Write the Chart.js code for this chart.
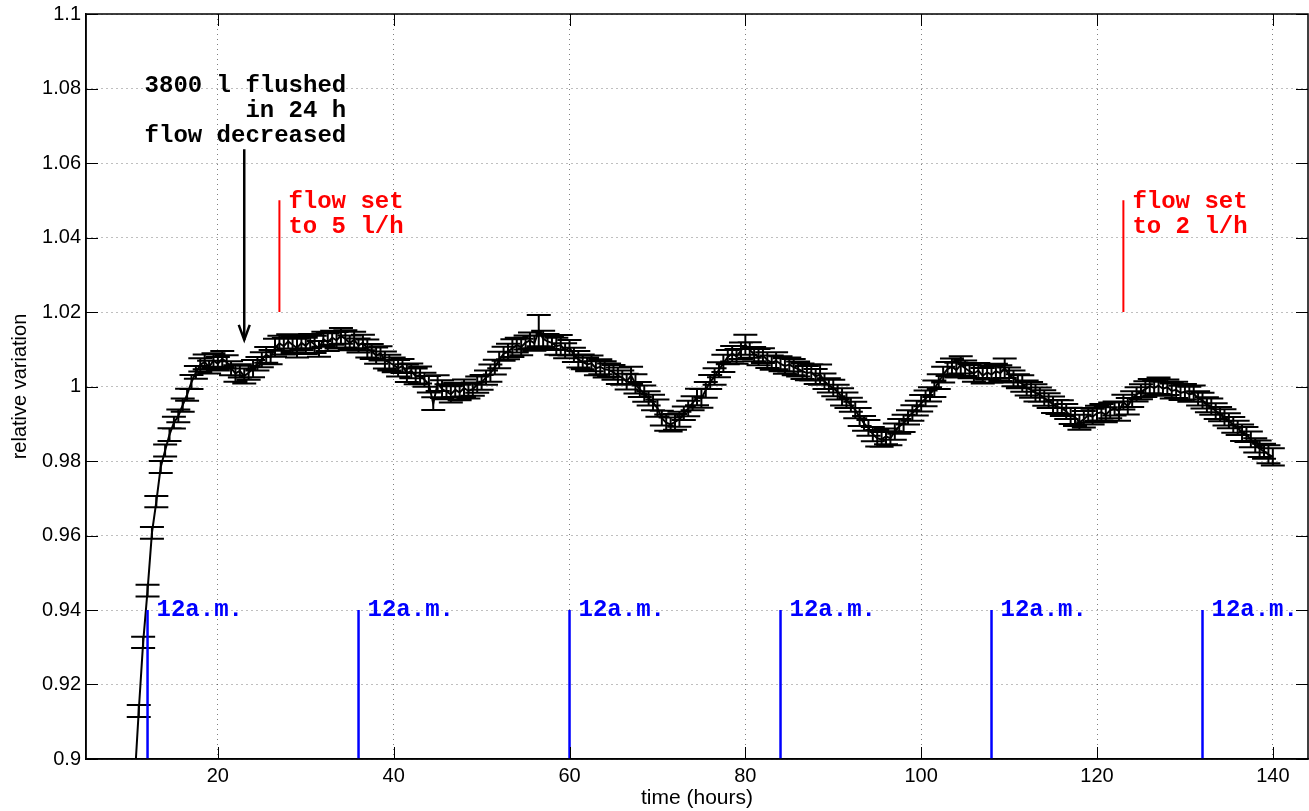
<!DOCTYPE html>
<html>
<head>
<meta charset="utf-8">
<title>relative variation vs time</title>
<script src="https://cdn.jsdelivr.net/npm/chart.js@4.4.1/dist/chart.umd.min.js"></script>
<style>
  html, body { margin: 0; padding: 0; background: #ffffff; }
  canvas { display: block; }
</style>
</head>
<body>
<canvas id="chart" width="1309" height="811"></canvas>
<script>
// Measurement times (hours), one reading every half hour
const hours = [
  10.5, 11, 11.5, 12, 12.5, 13, 13.5, 14, 14.5, 15,
  15.5, 16, 16.5, 17, 17.5, 18, 18.5, 19, 19.5, 20,
  20.5, 21, 21.5, 22, 22.5, 23, 23.5, 24, 24.5, 25,
  25.5, 26, 26.5, 27, 27.5, 28, 28.5, 29, 29.5, 30,
  30.5, 31, 31.5, 32, 32.5, 33, 33.5, 34, 34.5, 35,
  35.5, 36, 36.5, 37, 37.5, 38, 38.5, 39, 39.5, 40,
  40.5, 41, 41.5, 42, 42.5, 43, 43.5, 44, 44.5, 45,
  45.5, 46, 46.5, 47, 47.5, 48, 48.5, 49, 49.5, 50,
  50.5, 51, 51.5, 52, 52.5, 53, 53.5, 54, 54.5, 55,
  55.5, 56, 56.5, 57, 57.5, 58, 58.5, 59, 59.5, 60,
  60.5, 61, 61.5, 62, 62.5, 63, 63.5, 64, 64.5, 65,
  65.5, 66, 66.5, 67, 67.5, 68, 68.5, 69, 69.5, 70,
  70.5, 71, 71.5, 72, 72.5, 73, 73.5, 74, 74.5, 75,
  75.5, 76, 76.5, 77, 77.5, 78, 78.5, 79, 79.5, 80,
  80.5, 81, 81.5, 82, 82.5, 83, 83.5, 84, 84.5, 85,
  85.5, 86, 86.5, 87, 87.5, 88, 88.5, 89, 89.5, 90,
  90.5, 91, 91.5, 92, 92.5, 93, 93.5, 94, 94.5, 95,
  95.5, 96, 96.5, 97, 97.5, 98, 98.5, 99, 99.5, 100,
  100.5, 101, 101.5, 102, 102.5, 103, 103.5, 104, 104.5, 105,
  105.5, 106, 106.5, 107, 107.5, 108, 108.5, 109, 109.5, 110,
  110.5, 111, 111.5, 112, 112.5, 113, 113.5, 114, 114.5, 115,
  115.5, 116, 116.5, 117, 117.5, 118, 118.5, 119, 119.5, 120,
  120.5, 121, 121.5, 122, 122.5, 123, 123.5, 124, 124.5, 125,
  125.5, 126, 126.5, 127, 127.5, 128, 128.5, 129, 129.5, 130,
  130.5, 131, 131.5, 132, 132.5, 133, 133.5, 134, 134.5, 135,
  135.5, 136, 136.5, 137, 137.5, 138, 138.5, 139, 139.5, 140
];

// Relative variation at each time
const variation = [
  0.8930, 0.9129, 0.9313, 0.9452, 0.9607, 0.9691, 0.9784, 0.9828, 0.9871, 0.9903,
  0.9921, 0.9950, 0.9978, 1.0012, 1.0038, 1.0058, 1.0066, 1.0052, 1.0070, 1.0061,
  1.0074, 1.0066, 1.0049, 1.0035, 1.0042, 1.0028, 1.0037, 1.0048, 1.0061, 1.0072,
  1.0085, 1.0079, 1.0104, 1.0116, 1.0108, 1.0121, 1.0112, 1.0103, 1.0117, 1.0109,
  1.0122, 1.0113, 1.0101, 1.0127, 1.0119, 1.0131, 1.0124, 1.0136, 1.0128, 1.0117,
  1.0125, 1.0110, 1.0118, 1.0102, 1.0094, 1.0083, 1.0089, 1.0071, 1.0064, 1.0058,
  1.0049, 1.0055, 1.0036, 1.0042, 1.0027, 1.0031, 1.0018, 1.0006, 0.9954, 1.0009,
  0.9993, 0.9986, 0.9979, 0.9991, 0.9984, 0.9996, 0.9988, 0.9993, 1.0005, 1.0011,
  1.0024, 1.0036, 1.0052, 1.0071, 1.0088, 1.0094, 1.0103, 1.0111, 1.0106, 1.0118,
  1.0124, 1.0116, 1.0150, 1.0128, 1.0121, 1.0117, 1.0108, 1.0111, 1.0096, 1.0104,
  1.0085, 1.0073, 1.0066, 1.0059, 1.0062, 1.0049, 1.0053, 1.0046, 1.0044, 1.0038,
  1.0029, 1.0024, 1.0013, 1.0030, 1.0007, 0.9992, 0.9981, 0.9968, 0.9957, 0.9942,
  0.9915, 0.9903, 0.9898, 0.9905, 0.9912, 0.9928, 0.9941, 0.9955, 0.9972, 0.9968,
  0.9991, 1.0012, 1.0027, 1.0045, 1.0062, 1.0079, 1.0088, 1.0081, 1.0096, 1.0112,
  1.0098, 1.0087, 1.0079, 1.0083, 1.0071, 1.0064, 1.0069, 1.0061, 1.0055, 1.0059,
  1.0052, 1.0047, 1.0041, 1.0036, 1.0038, 1.0027, 1.0032, 1.0014, 1.0003, 0.9996,
  0.9985, 0.9972, 0.9963, 0.9951, 0.9937, 0.9918, 0.9901, 0.9889, 0.9872, 0.9861,
  0.9858, 0.9866, 0.9861, 0.9879, 0.9893, 0.9901, 0.9917, 0.9929, 0.9942, 0.9955,
  0.9968, 0.9979, 0.9994, 1.0013, 1.0032, 1.0047, 1.0053, 1.0044, 1.0058, 1.0049,
  1.0041, 1.0035, 1.0043, 1.0029, 1.0038, 1.0032, 1.0041, 1.0036, 1.0049, 1.0031,
  1.0022, 1.0014, 1.0008, 0.9996, 0.9991, 0.9983, 0.9978, 0.9969, 0.9962, 0.9951,
  0.9945, 0.9942, 0.9933, 0.9921, 0.9918, 0.9904, 0.9912, 0.9923, 0.9919, 0.9928,
  0.9931, 0.9924, 0.9936, 0.9941, 0.9934, 0.9958, 0.9947, 0.9966, 0.9979, 0.9986,
  0.9993, 1.0001, 0.9996, 1.0002, 0.9994, 0.9998, 0.9988, 0.9991, 0.9983, 0.9986,
  0.9979, 0.9981, 0.9968, 0.9962, 0.9951, 0.9946, 0.9934, 0.9926, 0.9917, 0.9908,
  0.9897, 0.9889, 0.9876, 0.9871, 0.9858, 0.9842, 0.9833, 0.9826, 0.9818, 0.9811
];

// Half-width of the error bar at each time
const uncertainty = [
  0.0016, 0.0016, 0.0015, 0.0016, 0.0016, 0.0015, 0.0016, 0.0016, 0.0017, 0.0016,
  0.0017, 0.0018, 0.0016, 0.0019, 0.0017, 0.0018, 0.0020, 0.0017, 0.0019, 0.0018,
  0.0021, 0.0018, 0.0019, 0.0022, 0.0018, 0.0020, 0.0019, 0.0023, 0.0018, 0.0020,
  0.0021, 0.0019, 0.0024, 0.0020, 0.0022, 0.0019, 0.0021, 0.0025, 0.0020, 0.0022,
  0.0019, 0.0023, 0.0021, 0.0020, 0.0024, 0.0019, 0.0022, 0.0021, 0.0023, 0.0020,
  0.0022, 0.0019, 0.0021, 0.0024, 0.0020, 0.0022, 0.0019, 0.0023, 0.0021, 0.0020,
  0.0022, 0.0019, 0.0024, 0.0020, 0.0021, 0.0023, 0.0019, 0.0022, 0.0017, 0.0021,
  0.0024, 0.0020, 0.0022, 0.0019, 0.0021, 0.0023, 0.0020, 0.0018, 0.0022, 0.0020,
  0.0019, 0.0023, 0.0020, 0.0022, 0.0019, 0.0021, 0.0024, 0.0020, 0.0022, 0.0019,
  0.0021, 0.0020, 0.0042, 0.0022, 0.0020, 0.0019, 0.0023, 0.0027, 0.0020, 0.0021,
  0.0019, 0.0022, 0.0020, 0.0018, 0.0021, 0.0019, 0.0020, 0.0022, 0.0018, 0.0020,
  0.0022, 0.0019, 0.0021, 0.0023, 0.0026, 0.0020, 0.0022, 0.0019, 0.0021, 0.0023,
  0.0020, 0.0022, 0.0019, 0.0021, 0.0020, 0.0018, 0.0021, 0.0019, 0.0022, 0.0025,
  0.0021, 0.0019, 0.0022, 0.0020, 0.0023, 0.0019, 0.0021, 0.0020, 0.0022, 0.0027,
  0.0021, 0.0019, 0.0022, 0.0020, 0.0021, 0.0019, 0.0023, 0.0020, 0.0021, 0.0019,
  0.0022, 0.0020, 0.0021, 0.0019, 0.0022, 0.0020, 0.0027, 0.0021, 0.0019, 0.0022,
  0.0020, 0.0023, 0.0021, 0.0019, 0.0022, 0.0024, 0.0020, 0.0021, 0.0019, 0.0022,
  0.0020, 0.0021, 0.0019, 0.0022, 0.0020, 0.0023, 0.0019, 0.0021, 0.0020, 0.0022,
  0.0021, 0.0019, 0.0022, 0.0020, 0.0021, 0.0019, 0.0022, 0.0020, 0.0023, 0.0021,
  0.0019, 0.0022, 0.0020, 0.0021, 0.0019, 0.0022, 0.0020, 0.0021, 0.0026, 0.0020,
  0.0021, 0.0019, 0.0022, 0.0020, 0.0021, 0.0023, 0.0019, 0.0021, 0.0020, 0.0022,
  0.0019, 0.0021, 0.0020, 0.0022, 0.0024, 0.0020, 0.0022, 0.0019, 0.0021, 0.0020,
  0.0022, 0.0020, 0.0021, 0.0019, 0.0026, 0.0020, 0.0022, 0.0021, 0.0019, 0.0020,
  0.0021, 0.0019, 0.0020, 0.0022, 0.0019, 0.0021, 0.0020, 0.0022, 0.0019, 0.0021,
  0.0020, 0.0022, 0.0019, 0.0021, 0.0020, 0.0022, 0.0021, 0.0019, 0.0022, 0.0020,
  0.0021, 0.0019, 0.0022, 0.0020, 0.0021, 0.0019, 0.0022, 0.0020, 0.0024, 0.0023
];

// Axis ranges and tick values
const xRange = [5, 144];
const yRange = [0.9, 1.1];
const xTicks = [20, 40, 60, 80, 100, 120, 140];
const yTicks = [0.9, 0.92, 0.94, 0.96, 0.98, 1, 1.02, 1.04, 1.06, 1.08, 1.1];

// Midnight markers
const midnightHours = [12, 36, 60, 84, 108, 132];
const midnightSpan = [0.9, 0.94];
const midnightLabel = '12a.m.';

// Flow changes
const flowChangeHours = [27, 123];
const flowChangeSpan = [1.02, 1.05];
const flowChangeLabels = [['flow set', 'to 5 l/h'], ['flow set', 'to 2 l/h']];

// Flushing event arrow and note
const flushHour = 23;
const flushArrowSpan = [1.0637, 1.0125];
const flushNote = ['3800 l flushed', 'in 24 h', 'flow decreased'];
const flushNoteAnchor = { hour: 34.6, value: 1.079 };

const MONO = 'bold 24px "Liberation Mono", "DejaVu Sans Mono", monospace';

const seriesPoints = hours.map((h, i) => ({ x: h, y: variation[i] }));

const midnightSets = midnightHours.map(h => ({
  data: [{ x: h, y: midnightSpan[0] }, { x: h, y: midnightSpan[1] }],
  borderColor: '#0000ff', borderWidth: 2.5, pointRadius: 0, order: 1
}));
const flowSets = flowChangeHours.map(h => ({
  data: [{ x: h, y: flowChangeSpan[0] }, { x: h, y: flowChangeSpan[1] }],
  borderColor: '#ff0000', borderWidth: 2, pointRadius: 0, order: 1
}));
const arrowSet = {
  data: [{ x: flushHour, y: flushArrowSpan[0] }, { x: flushHour, y: flushArrowSpan[1] }],
  borderColor: '#000000', borderWidth: 2.5, pointRadius: 0, order: 1
};

// Error bars drawn right after the measurement line
const errorBars = {
  id: 'errorBars',
  afterDatasetDraw(chart, args) {
    if (args.index !== 0) return;
    const { ctx, chartArea: a, scales: { x, y } } = chart;
    ctx.save();
    ctx.beginPath();
    ctx.rect(a.left, a.top, a.right - a.left, a.bottom - a.top);
    ctx.clip();
    ctx.strokeStyle = '#000';
    ctx.lineWidth = 2;
    ctx.beginPath();
    const cap = 12;
    hours.forEach((h, i) => {
      const px = x.getPixelForValue(h);
      const lo = y.getPixelForValue(variation[i] - uncertainty[i]);
      const hi = y.getPixelForValue(variation[i] + uncertainty[i]);
      ctx.moveTo(px, lo); ctx.lineTo(px, hi);
      ctx.moveTo(px - cap, lo); ctx.lineTo(px + cap, lo);
      ctx.moveTo(px - cap, hi); ctx.lineTo(px + cap, hi);
    });
    ctx.stroke();
    ctx.restore();
  }
};

// Box, inward tick marks, arrow head and text notes
const decorations = {
  id: 'decorations',
  afterDraw(chart) {
    const { ctx, chartArea: a, scales: { x, y } } = chart;
    ctx.save();
    // inward ticks on all four sides
    ctx.strokeStyle = '#000';
    ctx.lineWidth = 1;
    ctx.beginPath();
    const tl = 12;
    xTicks.forEach(v => {
      const px = Math.round(x.getPixelForValue(v)) + 0.5;
      ctx.moveTo(px, a.bottom); ctx.lineTo(px, a.bottom - tl);
      ctx.moveTo(px, a.top); ctx.lineTo(px, a.top + tl);
    });
    yTicks.forEach(v => {
      const py = Math.round(y.getPixelForValue(v)) + 0.5;
      ctx.moveTo(a.left, py); ctx.lineTo(a.left + tl, py);
      ctx.moveTo(a.right, py); ctx.lineTo(a.right - tl, py);
    });
    ctx.stroke();
    // box
    ctx.lineWidth = 1.5;
    ctx.strokeRect(a.left, a.top, a.right - a.left, a.bottom - a.top);

    // arrow head
    const ax = x.getPixelForValue(flushHour);
    const ay = y.getPixelForValue(flushArrowSpan[1]);
    ctx.lineWidth = 2.5;
    ctx.lineJoin = 'miter';
    ctx.beginPath();
    ctx.moveTo(ax - 5.5, ay - 15);
    ctx.lineTo(ax, ay);
    ctx.lineTo(ax + 5.5, ay - 15);
    ctx.stroke();

    ctx.font = MONO;
    ctx.textBaseline = 'alphabetic';

    // flushing note
    ctx.fillStyle = '#000';
    ctx.textAlign = 'right';
    const nx = x.getPixelForValue(flushNoteAnchor.hour);
    const ny = y.getPixelForValue(flushNoteAnchor.value);
    flushNote.forEach((line, i) => ctx.fillText(line, nx, ny + i * 25));

    // flow change notes
    ctx.fillStyle = '#ff0000';
    ctx.textAlign = 'left';
    flowChangeHours.forEach((h, k) => {
      const fx = x.getPixelForValue(h) + 9;
      const fy = y.getPixelForValue(1.048);
      flowChangeLabels[k].forEach((line, i) => ctx.fillText(line, fx, fy + i * 25));
    });

    // midnight labels
    ctx.fillStyle = '#0000ff';
    midnightHours.forEach(h => {
      ctx.fillText(midnightLabel, x.getPixelForValue(h) + 9, y.getPixelForValue(0.9385));
    });
    ctx.restore();
  }
};

const gridStyle = { color: 'rgba(0,0,0,0.5)', lineWidth: 1, drawTicks: false };
const borderStyle = { display: true, color: '#000', width: 1.5, dash: [1, 4] };

new Chart(document.getElementById('chart'), {
  type: 'line',
  data: {
    datasets: [
      { data: seriesPoints, borderColor: '#000', borderWidth: 2, pointRadius: 0, tension: 0, order: 2 },
      ...midnightSets,
      ...flowSets,
      arrowSet
    ]
  },
  options: {
    responsive: false,
    devicePixelRatio: 1,
    animation: false,
    layout: { padding: { top: 14, right: 1, left: 0, bottom: 0 } },
    plugins: { legend: { display: false }, tooltip: { enabled: false } },
    scales: {
      x: {
        type: 'linear',
        min: xRange[0], max: xRange[1],
        afterBuildTicks: s => { s.ticks = xTicks.map(v => ({ value: v })); },
        afterFit: s => { s.height = 52; s.paddingLeft = 0; s.paddingRight = 0; },
        ticks: { color: '#000', font: { family: 'Liberation Sans', size: 20 }, padding: 5, maxRotation: 0 },
        grid: gridStyle,
        border: borderStyle,
        title: { display: true, text: 'time (hours)', color: '#000', font: { family: 'Liberation Sans', size: 21 }, padding: { top: 0, bottom: 0 } }
      },
      y: {
        type: 'linear',
        min: yRange[0], max: yRange[1],
        afterBuildTicks: s => { s.ticks = yTicks.map(v => ({ value: v })); },
        afterFit: s => { s.width = 86; s.paddingTop = 0; s.paddingBottom = 0; },
        ticks: {
          color: '#000', font: { family: 'Liberation Sans', size: 20 }, padding: 5,
          callback: v => String(parseFloat(Number(v).toFixed(2)))
        },
        grid: gridStyle,
        border: borderStyle,
        title: { display: true, text: 'relative variation', color: '#000', font: { family: 'Liberation Sans', size: 20 }, padding: { top: 8, bottom: 0 } }
      }
    }
  },
  plugins: [errorBars, decorations]
});
</script>
</body>
</html>
